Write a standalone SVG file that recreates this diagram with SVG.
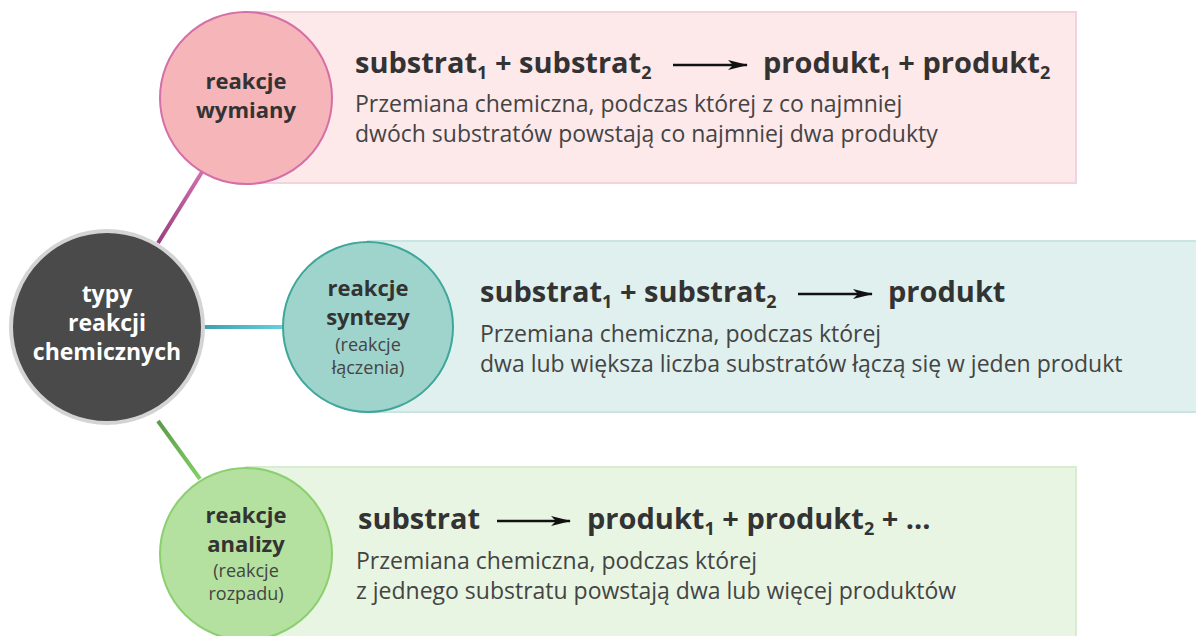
<svg xmlns="http://www.w3.org/2000/svg" width="1196" height="636" viewBox="0 0 1196 636">
<style>
.eq{font-family:"Open Sans","Liberation Sans",sans-serif;font-weight:700;font-size:29px;fill:#333333}
.sub{font-size:18px}
.desc{font-family:"Open Sans","Liberation Sans",sans-serif;font-size:23px;fill:#444444}
.ct{font-family:"Open Sans","Liberation Sans",sans-serif;font-weight:700;font-size:22px;fill:#333333;text-anchor:middle}
.cs{font-family:"Open Sans","Liberation Sans",sans-serif;font-size:18px;fill:#444444;text-anchor:middle}
.wt{fill:#ffffff;font-size:23px}
.arrow{stroke:#111111;stroke-width:2.5;fill:none}
</style>
<defs>
<marker id="ah" viewBox="0 0 20 10" refX="19" refY="5" markerWidth="20" markerHeight="10" markerUnits="userSpaceOnUse" orient="auto">
<path d="M0,0 L20,5 L0,10 L5,5 Z" fill="#111111"/>
</marker>
<linearGradient id="gp" x1="158" y1="243" x2="202" y2="172" gradientUnits="userSpaceOnUse">
<stop offset="0" stop-color="#9a3f7e"/><stop offset="1" stop-color="#d070ac"/>
</linearGradient>
<linearGradient id="gt" x1="204" y1="327" x2="284" y2="327" gradientUnits="userSpaceOnUse">
<stop offset="0" stop-color="#3f9fb0"/><stop offset="1" stop-color="#66d0de"/>
</linearGradient>
<linearGradient id="gg" x1="158" y1="421" x2="200" y2="479" gradientUnits="userSpaceOnUse">
<stop offset="0" stop-color="#5a9a48"/><stop offset="1" stop-color="#84d066"/>
</linearGradient>
</defs>
<rect width="1196" height="636" fill="#ffffff"/>
<g id="connectors">
<line x1="158" y1="243" x2="202" y2="172" stroke="url(#gp)" stroke-width="4"/>
<line x1="204" y1="327" x2="284" y2="327" stroke="url(#gt)" stroke-width="4"/>
<line x1="158" y1="421" x2="200" y2="479" stroke="url(#gg)" stroke-width="4"/>
</g>
<g id="wymiany">
<rect x="246" y="12" width="830" height="171" fill="#fde8ea" stroke="#f3d3dd" stroke-width="2"/>
<circle cx="246" cy="98" r="86" fill="#f5b5b9" stroke="#d46fa8" stroke-width="2"/>
<text class="ct" x="246" y="89">reakcje</text>
<text class="ct" x="246" y="118">wymiany</text>
<text class="eq" x="355" y="73">substrat<tspan class="sub" dy="6">1</tspan><tspan dy="-6"> + substrat</tspan><tspan class="sub" dy="6">2</tspan></text>
<line class="arrow" x1="673" y1="65" x2="747" y2="65" marker-end="url(#ah)"/>
<text class="eq" x="763" y="73">produkt<tspan class="sub" dy="6">1</tspan><tspan dy="-6"> + produkt</tspan><tspan class="sub" dy="6">2</tspan></text>
<text class="desc" x="355" y="112">Przemiana chemiczna, podczas której z co najmniej</text>
<text class="desc" x="355" y="142">dwóch substratów powstają co najmniej dwa produkty</text>
</g>
<g id="syntezy">
<rect x="368" y="241" width="830" height="171" fill="#dff0ee" stroke="#c9e5e1" stroke-width="2"/>
<circle cx="368" cy="327" r="85" fill="#9fd4cd" stroke="#3ea69a" stroke-width="2"/>
<text class="ct" x="368" y="296">reakcje</text>
<text class="ct" x="368" y="325">syntezy</text>
<text class="cs" x="368" y="351">(reakcje</text>
<text class="cs" x="368" y="374">łączenia)</text>
<text class="eq" x="480" y="302">substrat<tspan class="sub" dy="6">1</tspan><tspan dy="-6"> + substrat</tspan><tspan class="sub" dy="6">2</tspan></text>
<line class="arrow" x1="798" y1="294" x2="872" y2="294" marker-end="url(#ah)"/>
<text class="eq" x="888" y="302">produkt</text>
<text class="desc" x="480" y="342">Przemiana chemiczna, podczas której</text>
<text class="desc" x="480" y="372">dwa lub większa liczba substratów łączą się w jeden produkt</text>
</g>
<g id="analizy">
<rect x="246" y="467" width="830" height="180" fill="#e8f5e2" stroke="#d9ecd0" stroke-width="2"/>
<circle cx="246" cy="554" r="86" fill="#b4e19f" stroke="#8ccf70" stroke-width="2"/>
<text class="ct" x="246" y="523">reakcje</text>
<text class="ct" x="246" y="552">analizy</text>
<text class="cs" x="246" y="577">(reakcje</text>
<text class="cs" x="246" y="600">rozpadu)</text>
<text class="eq" x="358" y="529">substrat</text>
<line class="arrow" x1="497" y1="521" x2="570" y2="521" marker-end="url(#ah)"/>
<text class="eq" x="587" y="529">produkt<tspan class="sub" dy="6">1</tspan><tspan dy="-6"> + produkt</tspan><tspan class="sub" dy="6">2</tspan><tspan dy="-6"> + ...</tspan></text>
<text class="desc" x="356" y="569">Przemiana chemiczna, podczas której</text>
<text class="desc" x="356" y="599">z jednego substratu powstają dwa lub więcej produktów</text>
</g>
<g id="typy">
<circle cx="107" cy="327" r="96" fill="#4a4a4a" stroke="#d4d4d4" stroke-width="4"/>
<text class="ct wt" x="107" y="302">typy</text>
<text class="ct wt" x="107" y="331">reakcji</text>
<text class="ct wt" x="107" y="360">chemicznych</text>
</g>
</svg>
